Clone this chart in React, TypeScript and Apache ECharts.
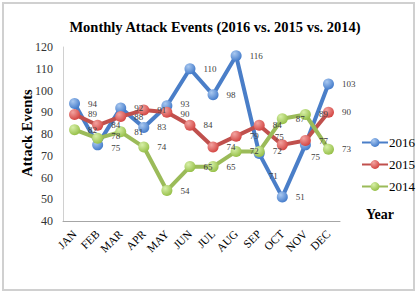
import React, { useEffect, useRef } from "react";
import * as echarts from "echarts";

const months = ["JAN", "FEB", "MAR", "APR", "MAY", "JUN", "JUL", "AUG", "SEP", "OCT", "NOV", "DEC"];
const events2016 = [94, 75, 92, 83, 93, 110, 98, 116, 71, 51, 75, 103];
const events2015 = [89, 84, 88, 91, 90, 84, 74, 79, 84, 75, 77, 90];
const events2014 = [82, 78, 81, 74, 54, 65, 65, 72, 72, 87, 89, 73];
const yTicks = { min: 40, max: 120, interval: 10 };

const FONT = "'Liberation Serif', 'DejaVu Serif', serif";

function ball(base: string, light: string) {
  return new echarts.graphic.RadialGradient(0.35, 0.3, 0.75, [
    { offset: 0, color: light },
    { offset: 1, color: base },
  ]);
}

function makeSeries(name: string, data: number[], base: string, light: string, lineColor: string, overrides: Record<number, any> = {}) {
  return {
    name,
    type: "line",
    data: data.map((v, i) => (overrides[i] ? { value: v, label: overrides[i] } : v)),
    symbol: "circle",
    symbolSize: 11,
    lineStyle: { color: lineColor, width: 4 },
    itemStyle: { color: ball(base, light), borderWidth: 0 },
    label: {
      show: true,
      position: "right",
      distance: 8,
      fontFamily: FONT,
      fontSize: 9,
      color: "#404040",
    },
    emphasis: { disabled: true },
  };
}

export default function App() {
  const ref = useRef<HTMLDivElement>(null);
  useEffect(() => {
    if (!ref.current) return;
    const chart = echarts.init(ref.current, undefined, { renderer: "svg" });
    chart.setOption({
      animation: false,
      backgroundColor: "#ffffff",
      title: {
        text: "Monthly Attack Events (2016 vs. 2015 vs. 2014)",
        left: 210,
        textAlign: "center",
        top: 14,
        textStyle: { fontFamily: FONT, fontWeight: "bold", fontSize: 14.5, color: "#000" },
      },
      graphic: [
        {
          type: "rect",
          shape: { x: 3, y: 3, width: 411, height: 287 },
          style: { fill: "none", stroke: "#d0d0d0", lineWidth: 2 },
          silent: true,
        },
        {
          type: "text",
          x: 27,
          y: 133,
          rotation: Math.PI / 2,
          style: {
            text: "Attack Events",
            fontFamily: FONT,
            fontWeight: "bold",
            fontSize: 14.5,
            fill: "#000",
            align: "center",
            verticalAlign: "middle",
          },
        },
        {
          type: "text",
          x: 366,
          y: 207,
          style: { text: "Year", fontFamily: FONT, fontWeight: "bold", fontSize: 14, fill: "#000" },
        },
      ],
      legend: {
        orient: "vertical",
        left: 356,
        top: 131,
        itemWidth: 26,
        itemHeight: 11,
        itemGap: 9,
        textStyle: { fontFamily: FONT, fontSize: 13, color: "#000", padding: [0, 0, 0, -4] },
        data: ["2016", "2015", "2014"],
      },
      grid: { left: 63, top: 47, right: 78, bottom: 73 },
      xAxis: {
        type: "category",
        data: months,
        boundaryGap: true,
        axisLine: { lineStyle: { color: "#a6a6a6", width: 1 } },
        axisTick: { show: false },
        axisLabel: { rotate: 45, fontFamily: FONT, fontSize: 11.5, color: "#000", margin: 11 },
      },
      yAxis: {
        type: "value",
        min: yTicks.min,
        max: yTicks.max,
        interval: yTicks.interval,
        splitLine: { show: false },
        axisLine: { show: true, lineStyle: { color: "#d0d0d0", width: 1 } },
        axisTick: { show: false },
        axisLabel: { fontFamily: FONT, fontSize: 12, color: "#333", margin: 10 },
      },
      series: [
        makeSeries("2016", events2016, "#3F78C9", "#A9C8F0", "#4A7EC8", {
          1: { offset: [0, 3] },
          4: { offset: [0, -2] },
          8: { position: "bottom", distance: 12, offset: [14, 0] },
          10: { position: "bottom", distance: 2, offset: [10, 0] },
        }),
        makeSeries("2015", events2015, "#D2423F", "#F2A3A0", "#C0504D", {
          4: { offset: [0, 2] },
          9: { position: "top", distance: 0, offset: [-3, 2] },
        }),
        makeSeries("2014", events2014, "#94BE45", "#D7EFA8", "#9BBB59", {
          1: { offset: [0, -2] },
        }),
      ],
    });
    return () => chart.dispose();
  }, []);
  return <div ref={ref} style={{ position: "fixed", left: 0, top: 0, width: 418, height: 294 }} />;
}
